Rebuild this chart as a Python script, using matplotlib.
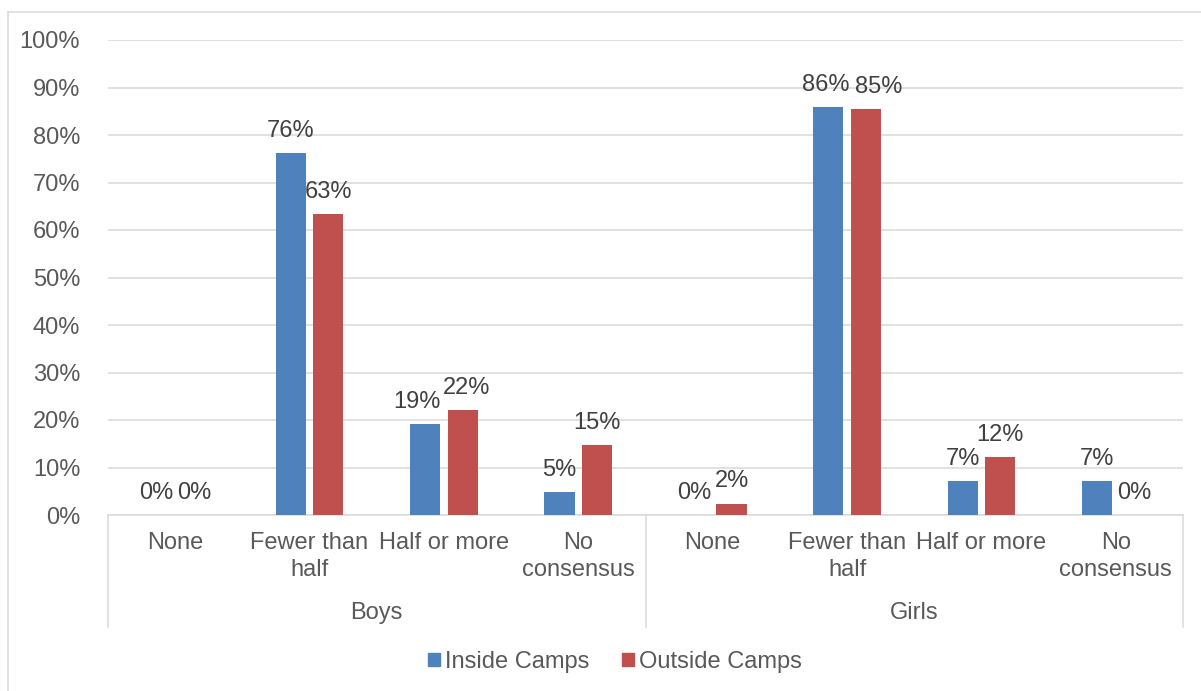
import numpy as np
import matplotlib
matplotlib.use('Agg')
import matplotlib.pyplot as plt
from matplotlib.patches import Patch
from matplotlib.lines import Line2D

plt.rcParams['font.family'] = ['Liberation Sans', 'DejaVu Sans']

# Datos
grupos = ['Boys', 'Girls']
categorias = ['None', 'Fewer than\nhalf', 'Half or more', 'No\nconsensus']
dentro = [0.0, 76.2, 19.2, 4.8, 0.0, 85.8, 7.2, 7.2]      # Inside Camps
fuera = [0.0, 63.4, 22.1, 14.7, 2.4, 85.4, 12.2, 0.0]      # Outside Camps
series = ['Inside Camps', 'Outside Camps']

azul = '#4F81BD'
rojo = '#C0504D'
gris_texto = '#595959'
gris_linea = '#D9D9D9'
fs = 17

# desplazamiento horizontal (pt) de etiquetas que se tocan, como hace Excel
ajuste = {(0, 2): -6, (1, 2): 3, (0, 5): -2, (1, 5): 9}

fig = plt.figure(figsize=(12.01, 6.91), dpi=100)
ax = fig.add_axes([108 / 1201, 1 - 515 / 691, (1183 - 108) / 1201, 475 / 691])

n = len(dentro)
x = np.arange(n)
ancho = 0.225
desp = 0.14
b1 = ax.bar(x - desp, dentro, ancho, color=azul, zorder=3)
b2 = ax.bar(x + desp, fuera, ancho, color=rojo, zorder=3)

# Etiquetas de datos
for s, barras in enumerate((b1, b2)):
    for i, rect in enumerate(barras):
        h = rect.get_height()
        ax.annotate('%d%%' % round(h), (rect.get_x() + rect.get_width() / 2, h),
                    xytext=(ajuste.get((s, i), 0), 8), textcoords='offset points',
                    ha='center', va='bottom', fontsize=fs, color='#404040',
                    annotation_clip=False)

ax.set_xlim(-0.5, n - 0.5)
ax.set_ylim(0, 100)
ax.set_yticks(np.arange(0, 101, 10))
ax.set_yticklabels(['%d%%' % v for v in range(0, 101, 10)])
ax.yaxis.grid(True, color=gris_linea, linewidth=1.1, zorder=0)
ax.set_axisbelow(True)

ax.set_xticks(x)
ax.set_xticklabels(categorias * len(grupos), linespacing=1.3)
ax.tick_params(axis='x', length=0, pad=12, labelsize=fs, labelcolor=gris_texto)
ax.tick_params(axis='y', length=0, pad=20, labelsize=fs, labelcolor=gris_texto)

for s in ['top', 'right', 'left']:
    ax.spines[s].set_visible(False)
ax.spines['bottom'].set_color(gris_linea)
ax.spines['bottom'].set_linewidth(1.1)

# Separadores de grupos y etiquetas de grupo
trans = ax.get_xaxis_transform()
k = len(categorias)
for i in range(len(grupos) + 1):
    xp = i * k - 0.5
    ax.add_line(Line2D([xp, xp], [0, -0.236], transform=trans, color=gris_linea,
                       linewidth=1.1, clip_on=False))
for i, g in enumerate(grupos):
    ax.text(i * k + (k - 1) / 2, -0.207, g, transform=trans, ha='center', va='center',
            fontsize=fs, color=gris_texto)

# Leyenda
handles = [Patch(color=azul), Patch(color=rojo)]
fig.legend(handles, series, loc='center', bbox_to_anchor=(615 / 1201, 1 - 662 / 691),
           ncol=2, frameon=False, fontsize=fs, labelcolor=gris_texto,
           handlelength=0.5, handleheight=0.5, handletextpad=0.2, columnspacing=1.4)

# Borde del grafico
fig.add_artist(Line2D([8 / 1201, 8 / 1201], [0, 1 - 12 / 691], transform=fig.transFigure,
                      color=gris_linea, linewidth=1.1))
fig.add_artist(Line2D([8 / 1201, 1], [1 - 12 / 691, 1 - 12 / 691], transform=fig.transFigure,
                      color=gris_linea, linewidth=1.1))

fig.savefig('out.png', dpi=100)
